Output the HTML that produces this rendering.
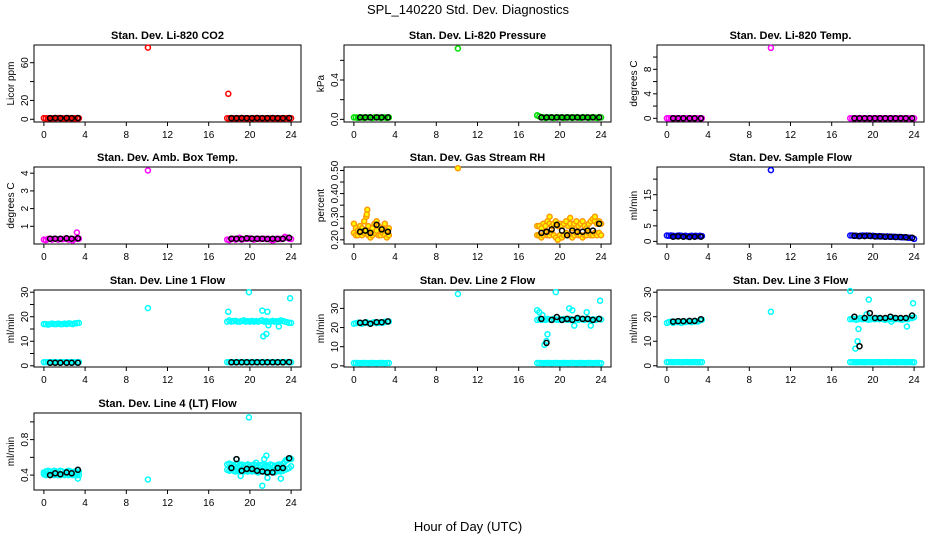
<!DOCTYPE html>
<html><head><meta charset="utf-8"><title>SPL_140220 Std. Dev. Diagnostics</title>
<style>
html,body{margin:0;padding:0;background:#fff;}
svg{display:block;font-family:"Liberation Sans",Arial,sans-serif;}
</style></head>
<body>
<svg id="chart" width="936" height="540" viewBox="0 0 936 540" xmlns="http://www.w3.org/2000/svg">
<rect x="0" y="0" width="936" height="540" fill="#fff"/>
<text x="468" y="14" font-size="13" text-anchor="middle">SPL_140220  Std. Dev. Diagnostics</text>
<text x="468" y="531" font-size="13" text-anchor="middle">Hour of Day (UTC)</text>
</svg>
<script>
// shared categories (hours)
const hoursA = [0,0.2,0.4,0.6,0.8,1.0,1.2,1.4,1.6,1.8,2.0,2.2,2.4,2.6,2.8,3.0,3.2,3.4];
const hoursB = [17.8,18.0,18.2,18.4,18.6,18.8,19.0,19.2,19.4,19.6,19.8,20.0,20.2,20.4,20.6,20.8,21.0,21.2,21.4,21.6,21.8,22.0,22.2,22.4,22.6,22.8,23.0,23.2,23.4,23.6,23.8,24.0];
const meanHoursA = [0.6,1.1,1.6,2.2,2.7,3.3];
const meanHoursB = [18.2,18.7,19.2,19.7,20.2,20.7,21.2,21.7,22.2,22.7,23.2,23.8];
const xTicks = [0,4,8,12,16,20,24];

// CO2
const co2A = [1.2,1,1.1,0.9,1,1.2,1,1.3,1,1.1,0.9,1,1.2,1,1.1,1,0.9,1.1];
const co2B = [1.1,1,1.2,1,0.9,1.1,1,1.2,1,1.1,1,0.9,1.1,1,1.2,1,1.1,1,0.9,1.1,1,1.2,1,1.1,1,1,1.1,0.9,1,1.2,1,1.1];
const co2OutH = [10.1,17.9];
const co2OutV = [76,27];
const co2MeanA = [1.2,1.3,1.2,1.3,1.2,1.3];
const co2MeanB = [1.2,1.2,1.3,1.2,1.2,1.3,1.2,1.2,1.3,1.2,1.2,1.3];

// Pressure
const presA = [0.02,0.02,0.015,0.02,0.02,0.015,0.02,0.02,0.02,0.015,0.02,0.02,0.02,0.015,0.02,0.02,0.015,0.02];
const presB = [0.04,0.03,0.02,0.02,0.015,0.02,0.02,0.02,0.015,0.02,0.02,0.02,0.02,0.015,0.02,0.02,0.02,0.015,0.02,0.02,0.02,0.015,0.02,0.02,0.02,0.015,0.02,0.02,0.02,0.015,0.02,0.02];
const presOutH = [10.1,17.8];
const presOutV = [0.72,0.04];
const presMeanA = [0.02,0.02,0.02,0.02,0.02,0.02];
const presMeanB = [0.02,0.02,0.02,0.02,0.02,0.02,0.02,0.02,0.02,0.02,0.02,0.02];

// Li-820 Temp
const tempA = [0,0,0,0,0,0,0,0,0,0,0,0,0,0,0,0,0,0];
const tempB = [0,0,0,0,0,0,0,0,0,0,0,0,0,0,0,0,0,0,0,0,0,0,0,0,0,0,0,0,0,0,0,0];
const tempOutH = [10.1];
const tempOutV = [11.5];
const tempMeanA = [0,0,0,0,0,0];
const tempMeanB = [0,0,0,0,0,0,0,0,0,0,0,0];

// Amb box temp
const ambA = [0.25,0.22,0.28,0.3,0.25,0.3,0.28,0.25,0.3,0.27,0.3,0.28,0.25,0.3,0.2,0.28,0.3,0.3];
const ambB = [0.25,0.22,0.28,0.3,0.25,0.3,0.35,0.25,0.28,0.3,0.3,0.32,0.28,0.25,0.3,0.3,0.28,0.3,0.3,0.28,0.3,0.25,0.2,0.25,0.3,0.3,0.28,0.3,0.4,0.35,0.3,0.28];
const ambOutH = [10.1,3.2];
const ambOutV = [4.15,0.65];
const ambMeanA = [0.3,0.3,0.3,0.32,0.3,0.32];
const ambMeanB = [0.3,0.3,0.28,0.32,0.3,0.3,0.3,0.28,0.3,0.28,0.3,0.35];

// Gas stream RH
const rhA = [0.27,0.25,0.24,0.26,0.25,0.28,0.3,0.26,0.24,0.25,0.27,0.28,0.26,0.24,0.25,0.27,0.24,0.25];
const rhA2 = [0.23,0.22,0.22,0.23,0.22,0.23,0.24,0.22,0.21,0.22,0.23,0.24,0.22,0.22,0.23,0.22,0.21,0.22];
const rhB = [0.26,0.26,0.25,0.27,0.26,0.28,0.27,0.26,0.27,0.28,0.26,0.27,0.26,0.27,0.28,0.26,0.27,0.25,0.27,0.28,0.26,0.27,0.28,0.26,0.25,0.27,0.28,0.29,0.28,0.27,0.28,0.27];
const rhB2 = [0.22,0.22,0.21,0.22,0.23,0.22,0.22,0.23,0.22,0.21,0.2,0.22,0.21,0.22,0.23,0.22,0.22,0.21,0.22,0.23,0.22,0.22,0.21,0.22,0.22,0.23,0.22,0.22,0.23,0.22,0.23,0.22];
const rhOutH = [10.1,1.3,1.25,19.0,21.0,23.4];
const rhOutV = [0.51,0.33,0.31,0.30,0.295,0.30];
const rhMeanA = [0.235,0.24,0.23,0.265,0.245,0.235];
const rhMeanB = [0.23,0.235,0.245,0.265,0.24,0.22,0.24,0.235,0.235,0.24,0.24,0.27];

// Sample flow
const sfA = [1.9,1.8,1.9,1.8,1.7,1.8,1.9,1.8,1.7,1.8,1.6,1.7,1.8,1.7,1.8,1.7,1.8,1.7];
const sfB = [1.9,1.9,1.8,1.8,1.7,1.8,1.9,1.8,1.9,1.8,1.7,1.8,1.7,1.6,1.7,1.6,1.6,1.5,1.6,1.5,1.5,1.5,1.4,1.4,1.4,1.3,1.3,1.3,1.2,1.2,1.1,0.8];
const sfOutH = [10.1];
const sfOutV = [22.9];
const sfMeanA = [1.5,1.6,1.5,1.4,1.5,1.5];
const sfMeanB = [1.8,1.7,1.7,1.8,1.6,1.6,1.5,1.5,1.4,1.4,1.3,1.2];

// Line 1 flow
const l1A = [17,17,16.8,17,17.2,17,17,17.2,17,17,17.2,17,17.3,17.2,17,17.3,17.4,17.5];
const l1B = [18,18.5,18,18.2,18.3,18,18,18.2,18.5,18,18.2,18,18.3,18,18.2,18,18.3,18.5,18,18.2,18,18,18.3,18,18.2,18,18.5,18.2,18,17.8,17.5,17.5];
const l1LowA = [1.5,1.5,1.5,1.4,1.5,1.5,1.5,1.4,1.5,1.5,1.5,1.4,1.5,1.5,1.5,1.4,1.5,1.5];
const l1LowB = [1.5,1.5,1.5,1.4,1.5,1.5,1.5,1.4,1.5,1.5,1.5,1.4,1.5,1.5,1.5,1.4,1.5,1.5,1.5,1.4,1.5,1.5,1.5,1.4,1.5,1.5,1.5,1.4,1.5,1.5,1.5,1.4];
const l1OutH = [10.1,17.9,19.9,21.3,21.6,21.2,21.7,23.9,22.8,21.8];
const l1OutV = [23.5,22,30,12,13,22.5,22,27.5,16,16.5];
const l1MeanA = [1.2,1.2,1.2,1.2,1.2,1.2];
const l1MeanB = [1.4,1.4,1.4,1.4,1.4,1.4,1.4,1.4,1.4,1.4,1.4,1.5];

// Line 2 flow
const l2A = [22,22.2,22.5,22.3,22,22.5,22.8,22.3,22,22.5,22.8,22.3,22.5,22.8,22.5,23,23,23.2];
const l2B = [24,24.5,24,24.2,24,24.5,24.2,24,24.5,24.2,24,24.3,24,24.5,24.2,24,24.5,24.2,24,24.3,24,24.5,24.2,24,24.5,24.2,24,24.3,24,24.2,24.5,24.2];
const l2LowA = [1.5,1.5,1.5,1.4,1.5,1.5,1.5,1.4,1.5,1.5,1.5,1.4,1.5,1.5,1.5,1.4,1.5,1.5];
const l2LowB = [1.5,1.5,1.5,1.4,1.5,1.5,1.5,1.4,1.5,1.5,1.5,1.4,1.5,1.5,1.5,1.4,1.5,1.5,1.5,1.4,1.5,1.5,1.5,1.4,1.5,1.5,1.5,1.4,1.5,1.5,1.5,1.4];
const l2OutH = [10.1,17.8,18.0,18.3,18.5,18.7,18.8,19.6,20.9,21.2,21.4,22.6,23.0,23.9];
const l2OutV = [37.5,29,28,26.5,11,13,16.5,38.5,30,29,21,28,21,34];
const l2MeanA = [22.5,22.7,22,22.8,22.8,23.2];
const l2MeanB = [24.5,12,24,25.5,24,24.5,24,25,24.5,24.5,24,24.5];

// Line 3 flow
const l3A = [17.5,17.8,18,17.5,18,17.8,18,17.5,18,17.8,18,18,17.8,18,18.2,18,18.5,18.8];
const l3B = [19,19.2,19,18.8,19,19.5,19,19.2,19,18.8,19,19.2,19,19.5,19,19.2,19,18.8,19,19.2,19,19.5,19,19.2,19,18.8,19,19.2,19,19.5,19.5,19.8];
const l3LowA = [1.5,1.5,1.5,1.4,1.5,1.5,1.5,1.4,1.5,1.5,1.5,1.4,1.5,1.5,1.5,1.4,1.5,1.5];
const l3LowB = [1.5,1.5,1.5,1.4,1.5,1.5,1.5,1.4,1.5,1.5,1.5,1.4,1.5,1.5,1.5,1.4,1.5,1.5,1.5,1.4,1.5,1.5,1.5,1.4,1.5,1.5,1.5,1.4,1.5,1.5,1.5,1.4];
const l3OutH = [10.1,17.8,18.3,18.5,18.6,19.6,19.4,21.8,23.3,23.9];
const l3OutV = [22,30.5,7,10,15,27,21,18,16,25.5];
const l3MeanA = [18,18.2,18.2,18.3,18.3,19];
const l3MeanB = [20,8,19.5,21.5,19.5,19.5,19.5,20,19.5,19.5,19.5,20.5];

// Line 4 flow
const l4A = [0.43,0.44,0.45,0.44,0.43,0.45,0.44,0.43,0.45,0.44,0.43,0.44,0.45,0.44,0.43,0.44,0.43,0.44];
const l4A2 = [0.41,0.4,0.41,0.4,0.41,0.4,0.41,0.4,0.4,0.41,0.4,0.41,0.4,0.41,0.4,0.41,0.4,0.4];
const l4B = [0.52,0.53,0.52,0.51,0.52,0.53,0.51,0.52,0.5,0.51,0.52,0.5,0.51,0.52,0.51,0.5,0.51,0.52,0.5,0.51,0.5,0.52,0.51,0.5,0.51,0.52,0.51,0.53,0.55,0.57,0.58,0.58];
const l4B2 = [0.46,0.45,0.46,0.45,0.44,0.45,0.44,0.45,0.44,0.45,0.44,0.45,0.44,0.45,0.44,0.43,0.44,0.45,0.44,0.43,0.44,0.45,0.44,0.43,0.44,0.45,0.44,0.45,0.46,0.47,0.48,0.5];
const l4OutH = [3.3,10.1,18.7,19.9,20.6,21.2,21.4,21.6,21.7,19.1,23.0,23.5,23.9];
const l4OutV = [0.36,0.35,0.58,1.05,0.54,0.28,0.58,0.62,0.37,0.39,0.36,0.57,0.59];
const l4MeanA = [0.40,0.42,0.41,0.43,0.42,0.46];
const l4MeanB = [0.48,0.58,0.45,0.47,0.47,0.45,0.44,0.43,0.43,0.48,0.48,0.59];

// y-axis tick values and printed labels per panel
const co2Ticks = [0,20,40,60];      const co2Labels = ["0","20","","60"];
const presTicks = [0,0.2,0.4,0.6];  const presLabels = ["0.0","","0.4",""];
const tempTicks = [0,2,4,6,8,10];   const tempLabels = ["0","","4","","8",""];
const ambTicks = [1,2,3,4];         const ambLabels = ["1","2","3","4"];
const rhTicks = [0.20,0.25,0.30,0.35,0.40,0.45,0.50]; const rhLabels = ["0.20","","0.30","","0.40","","0.50"];
const sfTicks = [0,5,10,15,20];     const sfLabels = ["0","5","","15",""];
const l1Ticks = [0,5,10,15,20,25,30]; const l1Labels = ["0","","10","","20","","30"];
const l2Ticks = [0,10,20,30];       const l2Labels = ["0","10","20","30"];
const l3Ticks = [0,10,20,30];       const l3Labels = ["0","10","20","30"];
const l4Ticks = [0.4,0.6,0.8,1.0];  const l4Labels = ["0.4","","0.8",""];

const NS = "http://www.w3.org/2000/svg";
const svg = document.getElementById('chart');
const BW = 267, BH = 77;

const panels = [
 {id:'co2', title:'Stan. Dev. Li-820 CO2', ylab:'Licor ppm', left:34, top:45, lo:-2.9, hi:78.8, color:'#ff0000', fill:'none', ticks:co2Ticks, labels:co2Labels, bands:[co2A,co2B], out:[co2OutH,co2OutV], means:[co2MeanA,co2MeanB]},
 {id:'pressure', title:'Stan. Dev. Li-820 Pressure', ylab:'kPa', left:344, top:45, lo:-0.027, hi:0.756, color:'#00dd00', fill:'none', ticks:presTicks, labels:presLabels, bands:[presA,presB], out:[presOutH,presOutV], means:[presMeanA,presMeanB]},
 {id:'licor-temp', title:'Stan. Dev. Li-820 Temp.', ylab:'degrees C', left:657, top:45, lo:-0.6, hi:11.97, color:'#ff00ff', fill:'none', ticks:tempTicks, labels:tempLabels, bands:[tempA,tempB], out:[tempOutH,tempOutV], means:[tempMeanA,tempMeanB]},
 {id:'amb-box-temp', title:'Stan. Dev. Amb. Box Temp.', ylab:'degrees C', left:34, top:167, lo:0.0, hi:4.35, color:'#ff00ff', fill:'none', ticks:ambTicks, labels:ambLabels, bands:[ambA,ambB], out:[ambOutH,ambOutV], means:[ambMeanA,ambMeanB]},
 {id:'gas-rh', title:'Stan. Dev. Gas Stream RH', ylab:'percent', left:344, top:167, lo:0.182, hi:0.515, color:'#ff9900', fill:'#ffff00', ticks:rhTicks, labels:rhLabels, bands:[rhA,rhB,rhA2,rhB2], out:[rhOutH,rhOutV], means:[rhMeanA,rhMeanB]},
 {id:'sample-flow', title:'Stan. Dev. Sample Flow', ylab:'ml/min', left:657, top:167, lo:-0.84, hi:23.9, color:'#0000ff', fill:'none', ticks:sfTicks, labels:sfLabels, bands:[sfA,sfB], out:[sfOutH,sfOutV], means:[sfMeanA,sfMeanB]},
 {id:'line1', title:'Stan. Dev. Line 1 Flow', ylab:'ml/min', left:34, top:290, lo:-0.5, hi:30.9, color:'#00ffff', fill:'none', ticks:l1Ticks, labels:l1Labels, bands:[l1A,l1B,l1LowA,l1LowB], out:[l1OutH,l1OutV], means:[l1MeanA,l1MeanB]},
 {id:'line2', title:'Stan. Dev. Line 2 Flow', ylab:'ml/min', left:344, top:290, lo:-0.6, hi:39.6, color:'#00ffff', fill:'none', ticks:l2Ticks, labels:l2Labels, bands:[l2A,l2B,l2LowA,l2LowB], out:[l2OutH,l2OutV], means:[l2MeanA,l2MeanB]},
 {id:'line3', title:'Stan. Dev. Line 3 Flow', ylab:'ml/min', left:657, top:290, lo:-0.5, hi:30.9, color:'#00ffff', fill:'none', ticks:l3Ticks, labels:l3Labels, bands:[l3A,l3B,l3LowA,l3LowB], out:[l3OutH,l3OutV], means:[l3MeanA,l3MeanB]},
 {id:'line4', title:'Stan. Dev. Line 4 (LT) Flow', ylab:'ml/min', left:34, top:413, lo:0.232, hi:1.1, color:'#00ffff', fill:'none', ticks:l4Ticks, labels:l4Labels, bands:[l4A,l4B,l4A2,l4B2], out:[l4OutH,l4OutV], means:[l4MeanA,l4MeanB]}
];

function mk(tag, attrs, parent){
  const e = document.createElementNS(NS, tag);
  for (const k in attrs) e.setAttribute(k, attrs[k]);
  parent.appendChild(e);
  return e;
}
function xScale(p, h){ return p.left + (h + 0.96) / 25.92 * BW; }
function yScale(p, v){ return p.top + (p.hi - v) / (p.hi - p.lo) * BH; }

function circle(g, p, h, v, stroke, fill, name){
  const c = mk('circle', {cx:xScale(p,h).toFixed(1), cy:yScale(p,v).toFixed(1), r:2.5, fill:fill, stroke:stroke, 'stroke-width':1.5}, g);
  
  
}

panels.forEach(p => {
  const g = mk('g', {}, svg);
  
  
  const bottom = p.top + BH;

  const t = mk('text', {x:p.left + BW/2, y:p.top - 6, 'font-size':11, 'font-weight':'bold', 'text-anchor':'middle'}, g);
  t.textContent = p.title;
  
  

  const yl = mk('text', {x:0, y:0, 'font-size':10, 'text-anchor':'middle', transform:'translate(' + (p.left - 20) + ',' + (p.top + BH/2) + ') rotate(-90)'}, g);
  yl.textContent = p.ylab;
  
  

  const xa = mk('g', {}, g);
  
  
  xTicks.forEach(h => {
    const x = xScale(p, h);
    mk('line', {x1:x, x2:x, y1:bottom, y2:bottom + 4, stroke:'#000', 'stroke-width':1}, xa);
    const tl = mk('text', {x:x, y:bottom + 16, 'font-size':10, 'text-anchor':'middle'}, xa);
    tl.textContent = h;
    
    
  });
  mk('line', {x1:xScale(p,0), x2:xScale(p,24), y1:bottom, y2:bottom, stroke:'#000', 'stroke-width':1}, xa);

  const ya = mk('g', {}, g);
  
  
  p.ticks.forEach((v, i) => {
    const y = yScale(p, v);
    mk('line', {x1:p.left - 4, x2:p.left, y1:y, y2:y, stroke:'#000', 'stroke-width':1}, ya);
    if (p.labels[i]) {
      const tl = mk('text', {x:0, y:0, 'font-size':10, 'text-anchor':'middle', transform:'translate(' + (p.left - 6) + ',' + y + ') rotate(-90)'}, ya);
      tl.textContent = p.labels[i];
      
      
    }
  });

  const box = mk('rect', {x:p.left, y:p.top, width:BW, height:BH, fill:'none', stroke:'#000', 'stroke-width':1}, g);
  
  

  const sg = mk('g', {}, g);
  
  
  p.bands.forEach((arr, bi) => {
    const hrs = (bi % 2 === 0) ? hoursA : hoursB;
    arr.forEach((v, i) => circle(sg, p, hrs[i], v, p.color, p.fill, p.id + '-point'));
  });
  p.out[0].forEach((h, i) => circle(sg, p, h, p.out[1][i], p.color, p.fill, p.id + '-outlier'));

  const mg = mk('g', {}, g);
  
  
  p.means[0].forEach((v, i) => circle(mg, p, meanHoursA[i], v, '#000', 'none', p.id + '-mean-point'));
  p.means[1].forEach((v, i) => circle(mg, p, meanHoursB[i], v, '#000', 'none', p.id + '-mean-point'));
});
</script>
</body></html>
